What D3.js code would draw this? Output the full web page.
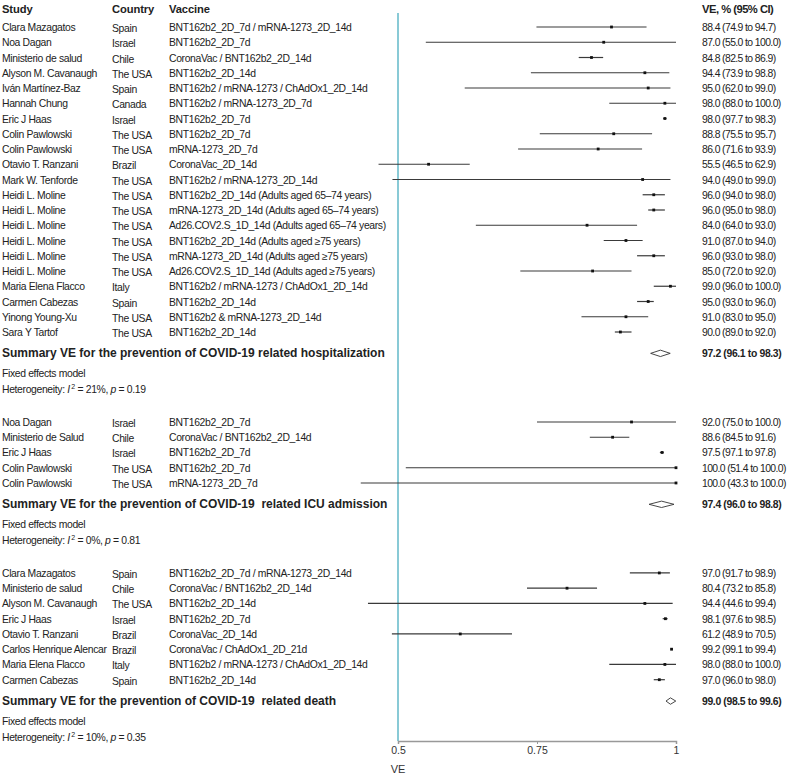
<!DOCTYPE html>
<html>
<head>
<meta charset="utf-8">
<script src="https://cdn.jsdelivr.net/npm/d3@7"></script>
<style>
  body { margin: 0; background: #fff; }
  svg { font-family: "Liberation Sans", Arial, sans-serif; }
</style>
</head>
<body>
<div id="chart"></div>
<script>
// hospitalization studies
var hospStudy = ["Clara Mazagatos","Noa Dagan","Ministerio de salud","Alyson M. Cavanaugh","Iván Martínez-Baz","Hannah Chung","Eric J Haas","Colin Pawlowski","Colin Pawlowski","Otavio T. Ranzani","Mark W. Tenforde","Heidi L. Moline","Heidi L. Moline","Heidi L. Moline","Heidi L. Moline","Heidi L. Moline","Heidi L. Moline","Maria Elena Flacco","Carmen Cabezas","Yinong Young-Xu","Sara Y Tartof"];
var hospCountry = ["Spain","Israel","Chile","The USA","Spain","Canada","Israel","The USA","The USA","Brazil","The USA","The USA","The USA","The USA","The USA","The USA","The USA","Italy","Spain","The USA","The USA"];
var hospVaccine = ["BNT162b2_2D_7d / mRNA-1273_2D_14d","BNT162b2_2D_7d","CoronaVac / BNT162b2_2D_14d","BNT162b2_2D_14d","BNT162b2 / mRNA-1273 / ChAdOx1_2D_14d","BNT162b2 / mRNA-1273_2D_7d","BNT162b2_2D_7d","BNT162b2_2D_7d","mRNA-1273_2D_7d","CoronaVac_2D_14d","BNT162b2 / mRNA-1273_2D_14d","BNT162b2_2D_14d (Adults aged 65–74 years)","mRNA-1273_2D_14d (Adults aged 65–74 years)","Ad26.COV2.S_1D_14d (Adults aged 65–74 years)","BNT162b2_2D_14d (Adults aged ≥75 years)","mRNA-1273_2D_14d (Adults aged ≥75 years)","Ad26.COV2.S_1D_14d (Adults aged ≥75 years)","BNT162b2 / mRNA-1273 / ChAdOx1_2D_14d","BNT162b2_2D_14d","BNT162b2 & mRNA-1273_2D_14d","BNT162b2_2D_14d"];
var hospVE = [88.4,87.0,84.8,94.4,95.0,98.0,98.0,88.8,86.0,55.5,94.0,96.0,96.0,84.0,91.0,96.0,85.0,99.0,95.0,91.0,90.0];
var hospLo = [74.9,55.0,82.5,73.9,62.0,88.0,97.7,75.5,71.6,46.5,49.0,94.0,95.0,64.0,87.0,93.0,72.0,96.0,93.0,83.0,89.0];
var hospHi = [94.7,100.0,86.9,98.8,99.0,100.0,98.3,95.7,93.9,62.9,99.0,98.0,98.0,93.0,94.0,98.0,92.0,100.0,96.0,95.0,92.0];

// ICU admission studies
var icuStudy = ["Noa Dagan","Ministerio de Salud","Eric J Haas","Colin Pawlowski","Colin Pawlowski"];
var icuCountry = ["Israel","Chile","Israel","The USA","The USA"];
var icuVaccine = ["BNT162b2_2D_7d","CoronaVac / BNT162b2_2D_14d","BNT162b2_2D_7d","BNT162b2_2D_7d","mRNA-1273_2D_7d"];
var icuVE = [92.0,88.6,97.5,100.0,100.0];
var icuLo = [75.0,84.5,97.1,51.4,43.3];
var icuHi = [100.0,91.6,97.8,100.0,100.0];

// death studies
var deathStudy = ["Clara Mazagatos","Ministerio de salud","Alyson M. Cavanaugh","Eric J Haas","Otavio T. Ranzani","Carlos Henrique Alencar","Maria Elena Flacco","Carmen Cabezas"];
var deathCountry = ["Spain","Chile","The USA","Israel","Brazil","Brazil","Italy","Spain"];
var deathVaccine = ["BNT162b2_2D_7d / mRNA-1273_2D_14d","CoronaVac / BNT162b2_2D_14d","BNT162b2_2D_14d","BNT162b2_2D_7d","CoronaVac_2D_14d","CoronaVac / ChAdOx1_2D_21d","BNT162b2 / mRNA-1273 / ChAdOx1_2D_14d","BNT162b2_2D_14d"];
var deathVE = [97.0,80.4,94.4,98.1,61.2,99.2,98.0,97.0];
var deathLo = [91.7,73.2,44.6,97.6,48.9,99.1,88.0,96.0];
var deathHi = [98.9,85.8,99.4,98.5,70.5,99.4,100.0,98.0];

// summaries
var sumTitle = ["Summary VE for the prevention of COVID-19 related hospitalization","Summary VE for the prevention of COVID-19  related ICU admission","Summary VE for the prevention of COVID-19  related death"];
var sumVE = [97.2,97.4,99.0];
var sumLo = [96.1,96.0,98.5];
var sumHi = [98.3,98.8,99.6];
var sumI2 = ["21%","0%","10%"];
var sumP = ["0.19","0.81","0.35"];

var xTicks = [0.5,0.75,1];

var width = 796, height = 774;
var xScale = d3.scaleLinear().domain([0.5, 1]).range([398, 676]);
var yScale = d3.scaleLinear().domain([0, 1]).range([27, 42.25]);

var svg = d3.select("#chart").append("svg")
    .attr("width", width).attr("height", height);

var fmt = d3.format(".1f");
var txtCol = "#222";
var fs = 10.4, ls = -0.35; // body text size / letter spacing

function label(x, y, s, spacing) {
  return svg.append("text").attr("x", x).attr("y", y)
    .attr("font-size", fs).attr("letter-spacing", spacing === undefined ? ls : spacing)
    .attr("fill", txtCol).text(s);
}

// headers
[["Study",2],["Country",112],["Vaccine",169],["VE, % (95% CI)",702]].forEach(function(h) {
  svg.append("text").attr("x", h[1]).attr("y", 13)
    .attr("font-size", 11.2).attr("font-weight", "bold").attr("letter-spacing", h[1] > 600 ? -0.5 : -0.1)
    .attr("fill", txtCol).text(h[0]);
});

// reference line at 0.5
svg.append("line")
  .attr("x1", xScale(0.5)).attr("x2", xScale(0.5))
  .attr("y1", 13).attr("y2", 741)
  .attr("stroke", "#62b8c9").attr("stroke-width", 1.5);

var sections = [
  {study: hospStudy, country: hospCountry, vaccine: hospVaccine, ve: hospVE, lo: hospLo, hi: hospHi},
  {study: icuStudy, country: icuCountry, vaccine: icuVaccine, ve: icuVE, lo: icuLo, hi: icuHi},
  {study: deathStudy, country: deathCountry, vaccine: deathVaccine, ve: deathVE, lo: deathLo, hi: deathHi}
];

var row = 0;
sections.forEach(function(s, k) {
  s.study.forEach(function(name, i) {
    var y = yScale(row);
    var ty = y + 4;
    label(2, ty, name);
    label(112, ty + 1, s.country[i]);
    label(169, ty, s.vaccine[i]);
    label(702, ty, fmt(s.ve[i]) + " (" + fmt(s.lo[i]) + " to " + fmt(s.hi[i]) + ")", -0.6);
    svg.append("line")
      .attr("x1", xScale(s.lo[i] / 100)).attr("x2", xScale(s.hi[i] / 100))
      .attr("y1", y).attr("y2", y)
      .attr("stroke", "#3a3a3a").attr("stroke-width", 1.2);
    svg.append("rect")
      .attr("x", xScale(s.ve[i] / 100) - 1.4).attr("y", y - 1.4)
      .attr("width", 2.8).attr("height", 2.8).attr("fill", "#111");
    row += 1;
  });
  // summary row
  row += 0.4;
  var ys = yScale(row);
  svg.append("text").attr("x", 2).attr("y", ys + 4).attr("font-size", 12).attr("font-weight", "bold")
    .attr("fill", txtCol).attr("xml:space", "preserve").text(sumTitle[k]);
  svg.append("text").attr("x", 702).attr("y", ys + 4).attr("font-size", fs).attr("letter-spacing", ls)
    .attr("font-weight", "bold").attr("fill", txtCol)
    .text(fmt(sumVE[k]) + " (" + fmt(sumLo[k]) + " to " + fmt(sumHi[k]) + ")");
  var xm = xScale(sumVE[k] / 100);
  var xl = xm - (xm - xScale(sumLo[k] / 100)) * 1.6;
  var xh = xm + (xScale(sumHi[k] / 100) - xm) * 1.6;
  svg.append("path")
    .attr("d", "M" + xl + "," + ys + "L" + xm + "," + (ys - 3.2) + "L" + xh + "," + ys + "L" + xm + "," + (ys + 3.2) + "Z")
    .attr("fill", "none").attr("stroke", "#333").attr("stroke-width", 0.9);
  row += 1.3;
  label(2, yScale(row) + 4, "Fixed effects model");
  row += 1.05;
  var het = label(2, yScale(row) + 4, "");
  het.append("tspan").text("Heterogeneity: ");
  het.append("tspan").attr("font-style", "italic").text("I");
  het.append("tspan").attr("font-size", 7).attr("dy", -4).text(" 2");
  het.append("tspan").attr("dy", 4).text(" = " + sumI2[k] + ", ");
  het.append("tspan").attr("font-style", "italic").text("p");
  het.append("tspan").text(" = " + sumP[k]);
  row += 2.15;
});

// x axis
var xAxis = d3.axisBottom(xScale).tickValues(xTicks).tickFormat(d3.format("")).tickSize(3).tickPadding(3);
svg.append("g")
  .attr("transform", "translate(0,741)")
  .call(xAxis)
  .call(function(g) { g.select(".domain").attr("stroke", "#999").attr("stroke-width", 1.5); })
  .call(function(g) { g.selectAll(".tick line").attr("stroke", "#999"); })
  .call(function(g) { g.selectAll(".tick text").attr("font-size", 10.5).attr("fill", "#333")
      .attr("font-family", "Liberation Sans, Arial, sans-serif"); });

svg.append("text").attr("x", xScale(0.5)).attr("y", 773).attr("text-anchor", "middle")
  .attr("font-size", 11).attr("fill", "#333").text("VE");
</script>
</body>
</html>
